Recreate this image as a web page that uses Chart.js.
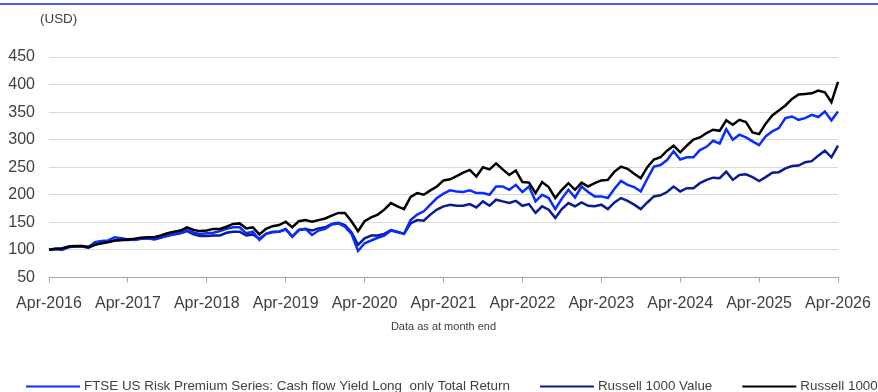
<!DOCTYPE html>
<html>
<head>
<meta charset="utf-8">
<script src="https://cdn.jsdelivr.net/npm/chart.js@4.4.1/dist/chart.umd.min.js"></script>
<style>
  html, body { margin: 0; padding: 0; background: #ffffff; }
  #wrap { width: 878px; height: 392px; position: relative; }
</style>
</head>
<body>
<div id="wrap"><canvas id="chart"></canvas></div>
<script>
// Monthly index levels (USD, rebased to 100 at Apr-2016), month end
const monthNames = ['Jan', 'Feb', 'Mar', 'Apr', 'May', 'Jun', 'Jul', 'Aug', 'Sep', 'Oct', 'Nov', 'Dec'];
const categories = [];
for (let i = 0; i <= 120; i++) {
  const idx = 3 + i;
  categories.push(monthNames[idx % 12] + '-' + (2016 + Math.floor(idx / 12)));
}

const tickLabels = ['Apr-2016', 'Apr-2017', 'Apr-2018', 'Apr-2019', 'Apr-2020', 'Apr-2021',
                    'Apr-2022', 'Apr-2023', 'Apr-2024', 'Apr-2025', 'Apr-2026'];
const yTicks = [50, 100, 150, 200, 250, 300, 350, 400, 450];

const ftseCashFlowYield = [
  100, 102, 100, 105, 106, 107, 105, 114, 116, 117,
  123, 121, 119, 118, 120, 121, 120, 123, 125, 129,
  131, 136, 131, 129, 130, 131, 134, 138, 141, 141,
  130, 133, 118, 129, 133, 133, 137, 124, 136, 138,
  127, 135, 138, 146, 148, 142, 129, 98, 112, 117,
  122, 126, 135, 132, 129, 154, 164, 170, 182, 194,
  202, 208, 206, 205, 208, 203, 203, 200, 215, 215,
  209, 218, 205, 215, 188, 200, 194, 174, 193, 209,
  195, 215, 205, 197, 197, 194, 211, 225, 218, 214,
  206, 229, 251, 254, 263, 279, 264, 268, 268, 281,
  287, 298, 293, 319, 300, 309, 304, 297, 290, 306,
  315, 321, 339, 342, 336, 339, 345, 341, 351, 335,
  351
];

const russell1000Value = [
  100, 101, 101, 105, 106, 106, 104, 110, 112, 114,
  117, 118, 118, 119, 120, 121, 119, 122, 126, 128,
  130, 134, 128, 125, 125, 126, 126, 131, 133, 133,
  126, 128, 120, 129, 132, 133, 138, 124, 136, 138,
  135, 139, 141, 147, 149, 145, 132, 109, 121, 126,
  126, 129, 136, 133, 129, 148, 154, 153, 164, 173,
  179, 182, 180, 180, 183, 177, 188, 180, 191, 188,
  185, 189, 180, 183, 167, 179, 173, 158, 174, 185,
  179, 186, 180, 179, 182, 174, 186, 194, 189, 182,
  174, 186, 197, 199, 205, 215, 206, 212, 212, 221,
  227, 231, 230, 242, 227, 236, 237, 232, 225, 232,
  240, 241, 248, 252, 253, 259, 261, 271, 280, 268,
  289
];

const russell1000 = [
  100, 102, 103, 106, 107, 107, 105, 109, 112, 114,
  117, 118, 119, 120, 122, 123, 123, 126, 130, 133,
  135, 141, 136, 134, 135, 138, 138, 142, 147, 148,
  139, 141, 128, 138, 143, 145, 151, 141, 152, 154,
  151, 154, 157, 162, 167, 167, 152, 134, 152, 159,
  164, 173, 185, 179, 174, 196, 203, 200, 208, 215,
  226, 228, 234, 240, 245, 233, 250, 246, 257, 246,
  236, 244, 223, 222, 203, 223, 214, 194, 209, 221,
  209, 222, 215, 221, 226, 227, 242, 251, 247, 238,
  230, 250, 264, 268, 280, 289, 277, 289, 300, 304,
  312, 318, 316, 335, 327, 336, 332, 313, 310, 329,
  344, 353, 362, 374, 382, 383, 384, 389, 386, 368,
  405
];

const seriesNames = [
  'FTSE US Risk Premium Series: Cash flow Yield Long  only Total Return',
  'Russell 1000 Value',
  'Russell 1000'
];
const seriesColors = ['#0a2cff', '#0b1c8f', '#000000'];

const textColor = '#404040';
const fontFamily = '"Liberation Sans", Arial, Helvetica, sans-serif';

// Header rule, unit caption and line legend drawn on the canvas
const framePlugin = {
  id: 'frame',
  afterDraw(chart) {
    const ctx = chart.ctx;
    ctx.save();
    // blue rule across the top
    ctx.strokeStyle = '#0a2cff';
    ctx.lineWidth = 1.5;
    ctx.beginPath();
    ctx.moveTo(0, 4);
    ctx.lineTo(chart.width, 4);
    ctx.stroke();

    // unit caption
    ctx.fillStyle = textColor;
    ctx.font = '13.4px ' + fontFamily;
    ctx.textAlign = 'left';
    ctx.textBaseline = 'middle';
    ctx.fillText('(USD)', 40, 19);

    // legend
    const y = 386.5;
    let x = 26;
    chart.data.datasets.forEach((ds) => {
      ctx.strokeStyle = ds.borderColor;
      ctx.lineWidth = 2;
      ctx.beginPath();
      ctx.moveTo(x, y);
      ctx.lineTo(x + 54, y);
      ctx.stroke();
      x += 58;
      ctx.fillStyle = textColor;
      ctx.fillText(ds.label, x, y);
      x += ctx.measureText(ds.label).width + 30;
    });
    ctx.restore();
  }
};

const datasets = [ftseCashFlowYield, russell1000Value, russell1000].map((values, i) => ({
  label: seriesNames[i],
  data: values,
  borderColor: seriesColors[i],
  backgroundColor: seriesColors[i],
  borderWidth: 2.5,
  pointRadius: 0,
  pointHoverRadius: 0,
  tension: 0,
  fill: false,
  order: [1, 2, 0][i]
}));

new Chart(document.getElementById('chart'), {
  type: 'line',
  data: { labels: categories, datasets },
  options: {
    responsive: true,
    maintainAspectRatio: false,
    animation: false,
    devicePixelRatio: 1,
    layout: { padding: { top: 57, left: 8, right: 40, bottom: 58 } },
    plugins: {
      legend: { display: false },
      tooltip: { enabled: false },
      title: { display: false }
    },
    scales: {
      x: {
        type: 'category',
        offset: false,
        afterFit(scale) {
          // edge labels may overhang the plot area; keep the axis height fixed
          scale.paddingLeft = 0;
          scale.paddingRight = 0;
          scale.height = 56.6;
        },
        grid: {
          display: true,
          drawOnChartArea: false,
          drawTicks: true,
          tickLength: 5,
          color: '#a6a6a6'
        },
        border: { display: true, color: '#a6a6a6', width: 1 },
        ticks: {
          autoSkip: false,
          maxRotation: 0,
          minRotation: 0,
          padding: 12,
          color: textColor,
          font: { family: fontFamily, size: 16 },
          callback(value) {
            const label = this.getLabelForValue(value);
            return tickLabels.includes(label) ? label : null;
          }
        },
        title: {
          display: true,
          text: 'Data as at month end',
          color: textColor,
          font: { family: fontFamily, size: 11 },
          padding: { top: 8, bottom: 0 }
        }
      },
      y: {
        min: 50,
        max: 450,
        afterBuildTicks(scale) {
          scale.ticks = yTicks.map(v => ({ value: v }));
        },
        afterFit(scale) {
          // three-digit labels plus their padding
          scale.width = 41;
        },
        grid: {
          color: '#d9d9d9',
          lineWidth: 1,
          drawTicks: false
        },
        border: { display: false },
        ticks: {
          padding: 14,
          color: textColor,
          font: { family: fontFamily, size: 16 }
        }
      }
    }
  },
  plugins: [framePlugin]
});
</script>
</body>
</html>
